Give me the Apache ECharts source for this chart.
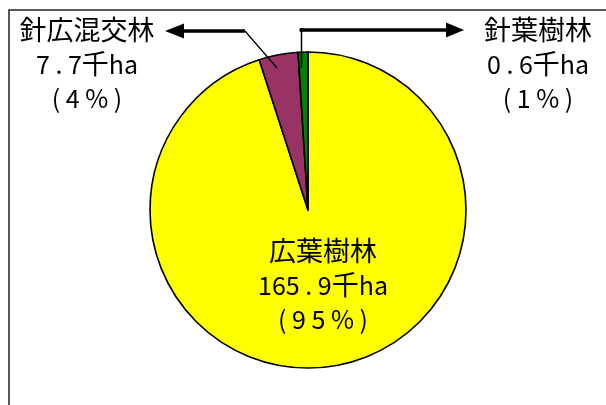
<!DOCTYPE html>
<html>
<head>
<meta charset="utf-8">
<script src="https://cdn.jsdelivr.net/npm/echarts@6/dist/echarts.min.js"></script>
<style>
html,body{margin:0;padding:0;background:#fff;}
#c{width:606px;height:405px;}
</style>
</head>
<body>
<div id="c"></div>
<script>
// Data
const categories = ['広葉樹林', '針広混交林', '針葉樹林'];
const areas = [165.9, 7.7, 0.6];          // 千ha
const percents = [95, 4, 1];              // % (slice sizes as drawn)
const colors = ['#FFFF00', '#993366', '#008000'];

function fmtArea(v) {
  const s = v.toFixed(1).split('.');
  return s[0] + ' . ' + s[1];
}
function fmtPct(p) {
  return '( ' + String(p).split('').join(' ') + ' % )';
}

const chart = echarts.init(document.getElementById('c'), null, {renderer: 'canvas'});
const FONT = '"Noto Sans CJK JP", "Noto Sans", sans-serif';

const option = {
  animation: false,
  backgroundColor: '#fff',
  series: [{
    type: 'pie',
    center: [308, 210],
    radius: 158,
    startAngle: 90,
    clockwise: true,
    avoidLabelOverlap: false,
    itemStyle: { borderColor: '#000', borderWidth: 1.6 },
    label: {
      show: true,
      position: 'inside',
      color: '#000',
      fontFamily: FONT,
      lineHeight: 34,
      formatter: function (p) {
        const i = p.dataIndex;
        return '{n|' + categories[i] + '}\n{v|' + fmtArea(areas[i]) + '}{n|千}{v|ha}\n{v|' + fmtPct(percents[i]) + '}';
      },
      rich: {
        n: { fontSize: 27, fontFamily: FONT, color: '#000', lineHeight: 34 },
        v: { fontSize: 25, fontFamily: FONT, color: '#000', lineHeight: 34 }
      }
    },
    labelLine: { show: false },
    labelLayout: function (params) {
      if (params.dataIndex === 0) return { x: 323, y: 285, align: 'center', verticalAlign: 'middle' };
      if (params.dataIndex === 1) return { x: 87, y: 64, align: 'center', verticalAlign: 'middle' };
      if (params.dataIndex === 2) return { x: 538, y: 64, align: 'center', verticalAlign: 'middle' };
      return {};
    },
    data: categories.map((c, i) => ({ name: c, value: percents[i], itemStyle: { color: colors[i] } }))
  }],
  graphic: [
    { type: 'rect', shape: { x: 9, y: 10, width: 800, height: 600 }, style: { fill: 'none', stroke: '#222', lineWidth: 1.5 }, silent: true },
    // left arrow (針広混交林)
    { type: 'polyline', shape: { points: [[277, 68], [245, 31]] }, style: { stroke: '#000', lineWidth: 1.3, fill: 'none' }, z: 10 },
    { type: 'polyline', shape: { points: [[245, 31], [182, 31]] }, style: { stroke: '#000', lineWidth: 3.5, fill: 'none' }, z: 10 },
    { type: 'polygon', shape: { points: [[165, 31], [184, 23.5], [184, 38.5]] }, style: { fill: '#000' }, z: 10 },
    // right arrow (針葉樹林)
    { type: 'polyline', shape: { points: [[301.5, 68], [301.5, 30]] }, style: { stroke: '#000', lineWidth: 1.5, fill: 'none' }, z: 10 },
    { type: 'circle', shape: { cx: 301.5, cy: 30, r: 2.2 }, style: { fill: '#000' }, z: 10 },
    { type: 'polyline', shape: { points: [[301.5, 30], [448, 30]] }, style: { stroke: '#000', lineWidth: 3.5, fill: 'none' }, z: 10 },
    { type: 'polygon', shape: { points: [[464, 30], [446, 22.5], [446, 37.5]] }, style: { fill: '#000' }, z: 10 }
  ]
};
chart.setOption(option);
</script>
</body>
</html>
